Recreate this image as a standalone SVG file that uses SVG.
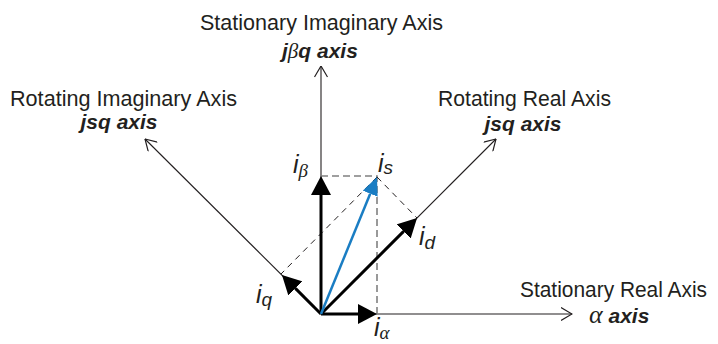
<svg xmlns="http://www.w3.org/2000/svg" width="718" height="344" viewBox="0 0 718 344">
<style>
.lbl{font-family:"Liberation Sans",Arial,sans-serif;font-size:22px;fill:#231f20}
.sub{font-family:"Liberation Sans",Arial,sans-serif;font-size:21px;font-weight:bold;font-style:italic;fill:#231f20}
.greek{font-family:"Liberation Serif","Times New Roman",serif;font-style:italic;font-weight:normal}
.vi{font-family:"Liberation Sans",Arial,sans-serif;font-style:italic;font-size:25px;fill:#231f20}
.vs{font-size:19px}
.axis{stroke:#231f20;stroke-width:1.1;fill:none}
.vec{stroke:#000;stroke-width:3;fill:none}
.blue{stroke:#1a7dc3;stroke-width:2.5;fill:none}
.dg{stroke:#808080;stroke-width:1.6;stroke-dasharray:7 4;fill:none}
.db{stroke:#231f20;stroke-width:1;stroke-dasharray:6 5;fill:none}
</style>
<defs>
<marker id="open" viewBox="0 0 12 14" refX="11.5" refY="7" markerWidth="12" markerHeight="14" markerUnits="userSpaceOnUse" orient="auto">
<path d="M0.5,0.5 L11.5,7 L0.5,13.5" fill="none" stroke="#231f20" stroke-width="1.2"/>
</marker>
<marker id="solid" viewBox="0 0 19 20" refX="0" refY="10" markerWidth="19" markerHeight="20" markerUnits="userSpaceOnUse" orient="auto">
<path d="M0,0 L19,10 L0,20 Z" fill="#000"/>
</marker>
<marker id="solidb" viewBox="0 0 18 16" refX="0" refY="8" markerWidth="18" markerHeight="16" markerUnits="userSpaceOnUse" orient="auto">
<path d="M0,0 L18,8 L0,16 Z" fill="#1a7dc3"/>
</marker>
</defs>

<g id="connectors">
<line class="axis" x1="321" y1="314" x2="321" y2="66" marker-end="url(#open)"/>
<line class="axis" x1="321" y1="314" x2="572" y2="314" marker-end="url(#open)" stroke="#555"/>
<line class="axis" x1="321" y1="314" x2="145" y2="139" marker-end="url(#open)"/>
<line class="axis" x1="321" y1="314" x2="496" y2="139" marker-end="url(#open)"/>
<path class="dg" d="M321,176 H377 V314"/>
<line class="db" x1="377" y1="177" x2="417" y2="218"/>
<line class="db" x1="377" y1="177" x2="281" y2="274"/>
<line class="vec" x1="321" y1="314" x2="321" y2="195" marker-end="url(#solid)"/>
<line class="vec" x1="321" y1="314" x2="358" y2="314" marker-end="url(#solid)"/>
<line class="vec" x1="321" y1="314" x2="403.6" y2="231.4" marker-end="url(#solid)"/>
<line class="vec" x1="321" y1="314" x2="295.4" y2="288.4" marker-end="url(#solid)"/>
<line class="blue" x1="321" y1="314" x2="370.2" y2="193.7" marker-end="url(#solidb)"/>
</g>

<g id="stationary-imaginary-axis">
<text class="lbl" x="200" y="30" textLength="243" lengthAdjust="spacingAndGlyphs">Stationary Imaginary Axis</text>
<text class="sub" x="282" y="58">j<tspan class="greek">β</tspan>q axis</text>
</g>
<g id="rotating-imaginary-axis">
<text class="lbl" x="10" y="106" textLength="227" lengthAdjust="spacingAndGlyphs">Rotating Imaginary Axis</text>
<text class="sub" x="119" y="129" text-anchor="middle">jsq axis</text>
</g>
<g id="rotating-real-axis">
<text class="lbl" x="438" y="106" textLength="173" lengthAdjust="spacingAndGlyphs">Rotating Real Axis</text>
<text class="sub" x="523" y="131" text-anchor="middle">jsq axis</text>
</g>
<g id="stationary-real-axis">
<text class="lbl" x="520" y="297" textLength="187" lengthAdjust="spacingAndGlyphs">Stationary Real Axis</text>
<text class="sub" x="589" y="323"><tspan class="greek" font-size="26">α</tspan> axis</text>
</g>
<g id="i-beta"><text class="vi" x="293" y="173">i<tspan class="greek vs" dy="4">β</tspan></text></g>
<g id="i-s"><text class="vi" x="378" y="172">i<tspan class="vs" dy="2">s</tspan></text></g>
<g id="i-d"><text class="vi" x="419" y="245">i<tspan class="vs" dy="4">d</tspan></text></g>
<g id="i-q"><text class="vi" x="256" y="303">i<tspan class="vs" dy="3">q</tspan></text></g>
<g id="i-alpha"><text class="vi" x="374" y="336">i<tspan class="greek vs" dy="3">α</tspan></text></g>
</svg>
